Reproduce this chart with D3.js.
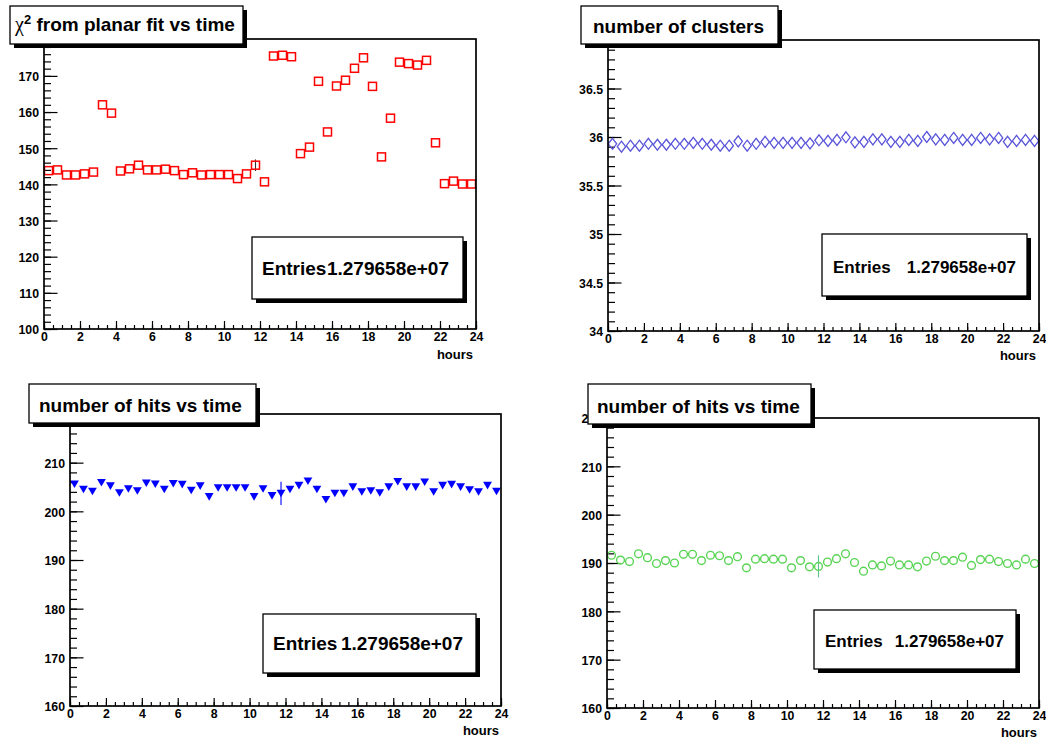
<!DOCTYPE html>
<html><head><meta charset="utf-8">
<script src="https://cdn.jsdelivr.net/npm/d3@7"></script>
<style>
body{margin:0;background:#fff}
svg text{font-family:"Liberation Sans",Arial,Helvetica,sans-serif;font-weight:bold;fill:#000}
</style>
</head><body><svg id="c" width="1046" height="740"></svg>
<script>
// ---------------- data ----------------
const binCenters = [0.25,0.75,1.25,1.75,2.25,2.75,3.25,3.75,4.25,4.75,5.25,5.75,6.25,6.75,7.25,7.75,8.25,8.75,9.25,9.75,10.25,10.75,11.25,11.75,12.25,12.75,13.25,13.75,14.25,14.75,15.25,15.75,16.25,16.75,17.25,17.75,18.25,18.75,19.25,19.75,20.25,20.75,21.25,21.75,22.25,22.75,23.25,23.75];
const chi2Values = [143.8,144.0,142.6,142.6,142.9,143.4,162.0,159.7,143.7,144.3,145.3,144.0,144.0,144.2,143.8,142.7,143.2,142.6,142.7,142.7,142.7,141.6,142.9,145.3,140.7,175.5,175.7,175.3,148.5,150.3,168.5,154.5,167.2,168.8,172.1,175.0,167.1,147.6,158.3,173.8,173.4,173.0,174.3,151.5,140.2,140.9,140.1,140.1];
const clusterValues = [35.93,35.90,35.91,35.91,35.93,35.92,35.92,35.93,35.93,35.94,35.93,35.92,35.91,35.91,35.955,35.91,35.93,35.95,35.94,35.94,35.94,35.94,35.935,35.966,35.96,35.97,35.997,35.945,35.95,35.976,35.976,35.95,35.95,35.97,35.96,36.0,35.976,35.97,35.99,35.97,35.97,35.99,35.976,35.99,35.95,35.96,35.97,35.96];
const hitsValues = [205.6,204.5,204.1,205.9,205.2,203.8,204.6,204.2,205.8,205.6,204.5,205.7,205.5,204.3,205.2,203.0,204.8,204.8,204.8,204.8,203.0,204.6,203.2,203.7,204.5,205.3,206.2,204.5,202.4,203.7,203.7,205.0,204.0,204.2,203.8,205.0,206.1,205.0,205.0,206.0,204.0,205.3,205.5,205.0,204.4,204.0,205.3,204.1];
const hits2Values = [191.6,190.6,190.3,191.9,191.1,189.9,190.5,190.0,191.8,191.8,190.5,191.6,191.5,190.5,191.3,189.0,190.8,190.9,190.8,190.8,189.0,190.5,189.2,189.3,190.2,190.9,191.9,190.1,188.3,189.6,189.4,190.4,189.6,189.6,189.2,190.4,191.4,190.5,190.5,191.2,189.5,190.7,190.8,190.3,189.9,189.6,190.8,189.9];
// one bin (11.75 h) carries a visible error bar
const errBinHour = 11.75;
const chi2Err = 1.6, clusterErr = 0.0, hitsErr = 2.4, hits2Err = 2.3;

const xTickLabels = [0,2,4,6,8,10,12,14,16,18,20,22,24];
const chi2Ticks = [100,110,120,130,140,150,160,170,180];
const clusterTicks = [34,34.5,35,35.5,36,36.5,37];
const hitsTicks = [160,170,180,190,200,210,220];
const titles = ["from planar fit vs time","number of clusters","number of hits vs time","number of hits vs time"];
const entriesLabel = "Entries";
const entriesValue = "1.279658e+07";

// ---------------- layout ----------------
// labelTop: whether the top tick label is printed (in the reference it is hidden by the title box except in the last pad)
const panels = [
  {vals: chi2Values, err: chi2Err, ticks: chi2Ticks, dom:[100,180.2], minor:2, labelTop:false,
   f:{x0:44,x1:476,y0:39,y1:329}, marker:'square', color:'#ff0000', errColor:'#333',
   title:{x:10,y:6,w:233,h:38,tx:15,ty:31,chi:true},
   stats:{x:252,y:237,w:211,h:62,sx:262,ex:449,by:275,fs:19},
   hours:{x:473,y:359}},
  {vals: clusterValues, err: clusterErr, ticks: clusterTicks, dom:[34,37], minor:0.1, labelTop:false,
   f:{x0:608,x1:1039,y0:40,y1:331}, marker:'diamond', color:'#5954d9', errColor:'#5954d9',
   title:{x:581,y:6,w:197,h:38,tx:593,ty:33},
   stats:{x:822,y:234,w:205,h:62,sx:833,ex:1016,by:273,fs:17},
   hours:{x:1036,y:360}},
  {vals: hitsValues, err: hitsErr, ticks: hitsTicks, dom:[160,220], minor:2, labelTop:false,
   f:{x0:70,x1:501,y0:414,y1:706}, marker:'triangle', color:'#0000ff', errColor:'#0000ff',
   title:{x:29,y:384,w:227,h:39,tx:39,ty:411.5},
   stats:{x:263,y:614,w:213,h:59,sx:273,ex:463,by:650,fs:19},
   hours:{x:499,y:735}},
  {vals: hits2Values, err: hits2Err, ticks: hitsTicks, dom:[160,220], minor:2, labelTop:true,
   f:{x0:607,x1:1039,y0:418,y1:708}, marker:'circle', color:'#59d454', errColor:'#59c48a',
   title:{x:588,y:384,w:223,h:40,tx:597,ty:413},
   stats:{x:814,y:610,w:202,h:59,sx:825,ex:1004,by:647,fs:17},
   hours:{x:1037,y:737}}
];

const svg = d3.select('#c');

panels.forEach((p, pi) => {
  const g = svg.append('g');
  const x = d3.scaleLinear().domain([0,24]).range([p.f.x0, p.f.x1]);
  const y = d3.scaleLinear().domain(p.dom).range([p.f.y1, p.f.y0]);
  const topTick = p.ticks[p.ticks.length-1];
  const fmt = d => (!p.labelTop && d === topTick) ? '' : (Math.round(d*10)/10).toString();

  // minor y ticks
  const nMin = Math.round((p.dom[1]-p.dom[0])/p.minor);
  const minorY = d3.range(0, nMin+1).map(i => p.dom[0] + i*p.minor)
    .filter(v => v <= p.dom[1] + 1e-9);
  const yMinorAx = g.append('g').attr('transform',`translate(${p.f.x0},0)`)
    .call(d3.axisLeft(y).tickValues(minorY).tickSize(-7).tickSizeOuter(0).tickFormat(''));
  yMinorAx.select('.domain').remove();
  const yMajAx = g.append('g').attr('transform',`translate(${p.f.x0},0)`)
    .call(d3.axisLeft(y).tickValues(p.ticks).tickSize(-13.5).tickSizeOuter(0).tickPadding(5).tickFormat(fmt));
  yMajAx.select('.domain').remove();
  yMajAx.selectAll('text').attr('font-size',12.3).attr('dy','0.4em');
  yMajAx.selectAll('text').filter(function(){return this.textContent==='';}).remove();

  // x ticks
  const minorX = d3.range(0,49).map(i => i*0.5);
  const xMinorAx = g.append('g').attr('transform',`translate(0,${p.f.y1})`)
    .call(d3.axisBottom(x).tickValues(minorX).tickSize(-4).tickSizeOuter(0).tickFormat(''));
  xMinorAx.select('.domain').remove();
  const xMajAx = g.append('g').attr('transform',`translate(0,${p.f.y1})`)
    .call(d3.axisBottom(x).tickValues(xTickLabels).tickSize(-8).tickSizeOuter(0).tickPadding(3).tickFormat(d3.format('d')));
  xMajAx.select('.domain').remove();
  xMajAx.selectAll('text').attr('font-size',12.3).attr('dy','0.75em');
  g.selectAll('.tick line').attr('stroke','#000').attr('stroke-width',1.2);

  // hours label
  g.append('text').attr('x',p.hours.x).attr('y',p.hours.y).attr('text-anchor','end')
    .attr('font-size',13).text('hours');

  // error bar on one bin
  if (p.err > 0) {
    const i = binCenters.indexOf(errBinHour);
    g.append('line').attr('x1',x(errBinHour)).attr('x2',x(errBinHour))
      .attr('y1',y(p.vals[i]-p.err)).attr('y2',y(p.vals[i]+p.err))
      .attr('stroke',p.errColor).attr('stroke-width',1.1);
  }

  // markers
  const pts = binCenters.map((h,i)=>({h, v:p.vals[i]}));
  const mg = g.append('g');
  if (p.marker === 'square') {
    mg.selectAll('rect').data(pts).join('rect')
      .attr('x',d=>x(d.h)-4).attr('y',d=>y(d.v)-4).attr('width',8).attr('height',8)
      .attr('fill','none').attr('stroke',p.color).attr('stroke-width',1.5);
  } else if (p.marker === 'diamond') {
    mg.selectAll('path').data(pts).join('path')
      .attr('d',d=>{const cx=x(d.h), cy=y(d.v); return `M${cx},${cy-5.5}L${cx+4.2},${cy}L${cx},${cy+5.5}L${cx-4.2},${cy}Z`;})
      .attr('fill','none').attr('stroke',p.color).attr('stroke-width',1.3);
  } else if (p.marker === 'triangle') {
    mg.selectAll('path').data(pts).join('path')
      .attr('d',d=>{const cx=x(d.h), cy=y(d.v); return `M${cx-4.4},${cy-3.7}L${cx+4.4},${cy-3.7}L${cx},${cy+3.9}Z`;})
      .attr('fill',p.color).attr('stroke','none');
  } else {
    mg.selectAll('circle').data(pts).join('circle')
      .attr('cx',d=>x(d.h)).attr('cy',d=>y(d.v)).attr('r',3.9)
      .attr('fill','none').attr('stroke',p.color).attr('stroke-width',1.4);
  }

  // frame
  g.append('rect').attr('x',p.f.x0).attr('y',p.f.y0)
    .attr('width',p.f.x1-p.f.x0).attr('height',p.f.y1-p.f.y0)
    .attr('fill','none').attr('stroke','#000').attr('stroke-width',1.7);

  // title box
  const t = p.title;
  g.append('rect').attr('x',t.x+4).attr('y',t.y+4).attr('width',t.w).attr('height',t.h).attr('fill','#000');
  g.append('rect').attr('x',t.x).attr('y',t.y).attr('width',t.w).attr('height',t.h)
    .attr('fill','#fff').attr('stroke','#000').attr('stroke-width',1.3);
  const tt = g.append('text').attr('x',t.tx).attr('y',t.ty).attr('font-size',19);
  if (t.chi) {
    tt.append('tspan').attr('font-family','"Liberation Serif","Times New Roman",serif')
      .attr('font-weight','normal').attr('font-size',20).text('χ');
    tt.append('tspan').attr('font-size',13).attr('dy',-7).text('2');
    tt.append('tspan').attr('dy',7).text(' ' + titles[pi]);
  } else {
    tt.text(titles[pi]);
  }

  // stats box
  const s = p.stats;
  g.append('rect').attr('x',s.x+4).attr('y',s.y+4).attr('width',s.w).attr('height',s.h).attr('fill','#000');
  g.append('rect').attr('x',s.x).attr('y',s.y).attr('width',s.w).attr('height',s.h)
    .attr('fill','#fff').attr('stroke','#000').attr('stroke-width',1.3);
  g.append('text').attr('x',s.sx).attr('y',s.by).attr('font-size',s.fs).text(entriesLabel);
  g.append('text').attr('x',s.ex).attr('y',s.by).attr('font-size',s.fs).attr('text-anchor','end').text(entriesValue);
});
</script>
</body></html>
